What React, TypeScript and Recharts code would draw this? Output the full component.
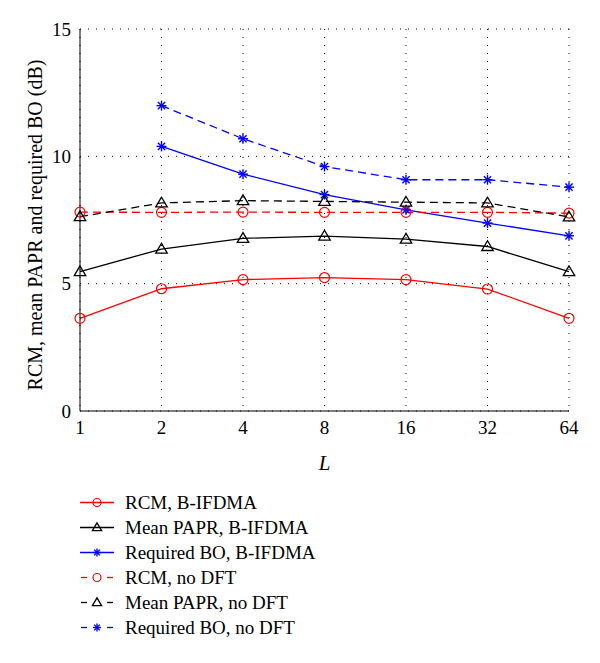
import { LineChart, Line, XAxis, YAxis, CartesianGrid } from "recharts";

const L = ["1", "2", "4", "8", "16", "32", "64"];
const rcmB = [3.64, 4.8, 5.16, 5.24, 5.16, 4.79, 3.64];
const paprB = [5.47, 6.36, 6.78, 6.87, 6.75, 6.46, 5.47];
const boB = [null, 10.39, 9.3, 8.5, 7.9, 7.38, 6.88];
const rcmN = [7.81, 7.8, 7.81, 7.8, 7.8, 7.8, 7.77];
const paprN = [7.63, 8.17, 8.26, 8.23, 8.2, 8.17, 7.62];
const boN = [null, 11.99, 10.69, 9.6, 9.08, 9.08, 8.79];
const yTicks = [0, 5, 10, 15];

const RED = "#ff0000";
const BLUE = "#0000ff";
const BLACK = "#000000";
const FONT = '"Liberation Serif", "Times New Roman", Times, serif';

type Marker = "circle" | "triangle" | "star";

const series: { key: string; name: string; values: (number | null)[]; color: string; dashed: boolean; marker: Marker }[] = [
  { key: "rcmB", name: "RCM, B-IFDMA", values: rcmB, color: RED, dashed: false, marker: "circle" },
  { key: "paprB", name: "Mean PAPR, B-IFDMA", values: paprB, color: BLACK, dashed: false, marker: "triangle" },
  { key: "boB", name: "Required BO, B-IFDMA", values: boB, color: BLUE, dashed: false, marker: "star" },
  { key: "rcmN", name: "RCM, no DFT", values: rcmN, color: RED, dashed: true, marker: "circle" },
  { key: "paprN", name: "Mean PAPR, no DFT", values: paprN, color: BLACK, dashed: true, marker: "triangle" },
  { key: "boN", name: "Required BO, no DFT", values: boN, color: BLUE, dashed: true, marker: "star" },
];

const data = L.map((l, i) => {
  const row: Record<string, string | number | null> = { L: l };
  series.forEach((s) => (row[s.key] = s.values[i]));
  return row;
});

function MarkerShape({ type, cx, cy, color, r }: { type: Marker; cx: number; cy: number; color: string; r: number }) {
  if (type === "circle") {
    return <circle cx={cx} cy={cy} r={r} fill="none" stroke={color} strokeWidth={1.2} />;
  }
  if (type === "triangle") {
    const h = r * 1.15;
    return (
      <polygon
        points={`${cx},${cy - h} ${cx - h},${cy + h * 0.7} ${cx + h},${cy + h * 0.7}`}
        fill="none"
        stroke={color}
        strokeWidth={1.3}
      />
    );
  }
  const d = r * 0.72;
  return (
    <g stroke={color} strokeWidth={1.4}>
      <line x1={cx - r} y1={cy} x2={cx + r} y2={cy} />
      <line x1={cx} y1={cy - r} x2={cx} y2={cy + r} />
      <line x1={cx - d} y1={cy - d} x2={cx + d} y2={cy + d} />
      <line x1={cx - d} y1={cy + d} x2={cx + d} y2={cy - d} />
    </g>
  );
}

function makeDot(type: Marker, color: string) {
  return (props: any) => {
    const { cx, cy, value, index } = props;
    if (value == null || cy == null || isNaN(cy)) return <g key={index} />;
    return (
      <g key={index}>
        <MarkerShape type={type} cx={cx} cy={cy} color={color} r={5} />
      </g>
    );
  };
}

const YLabel = (props: any) => {
  const { viewBox } = props;
  const cy = 225;
  const x = viewBox.x - 5;
  return (
    <text
      x={x}
      y={cy}
      transform={`rotate(-90 ${x} ${cy})`}
      textAnchor="middle"
      dominantBaseline="central"
      style={{ fontFamily: FONT }}
      fontSize={20}
      fill={BLACK}
    >
      RCM, mean PAPR and required BO (dB)
    </text>
  );
};

const XLabel = (props: any) => {
  const { viewBox } = props;
  return (
    <text
      x={viewBox.x + viewBox.width / 2}
      y={viewBox.y + 59}
      textAnchor="middle"
      style={{ fontFamily: FONT, fontStyle: "italic" }}
      fontSize={21}
      fill={BLACK}
    >
      L
    </text>
  );
};

const tickStyle = { fill: BLACK, fontSize: 19, style: { fontFamily: FONT } };

export default function App() {
  return (
    <div style={{ position: "absolute", left: 0, top: 0, width: 600, height: 663, background: "#fff", fontFamily: FONT }}>
      <LineChart width={600} height={480} data={data} margin={{ top: 29, right: 31, left: 40, bottom: 9 }} style={{ fontFamily: FONT }}>
        <CartesianGrid stroke={BLACK} strokeDasharray="1 7" strokeWidth={1} />
        <XAxis
          dataKey="L"
          type="category"
          height={60}
          stroke={BLACK}
          tickLine={false}
          tickSize={6}
          tickMargin={4}
          tick={tickStyle}
          label={<XLabel />}
        />
        <XAxis xAxisId="top" dataKey="L" orientation="top" height={0} stroke={BLACK} tick={false} tickLine={false} />
        <YAxis
          domain={[0, 15]}
          ticks={yTicks}
          width={40}
          stroke={BLACK}
          tickLine={false}
          tickSize={6}
          tickMargin={3}
          tick={tickStyle}
          label={<YLabel />}
        />
        <YAxis yAxisId="right" orientation="right" domain={[0, 15]} width={0} stroke={BLACK} tick={false} tickLine={false} />
        {series.map((s) => (
          <Line
            key={s.key}
            dataKey={s.key}
            name={s.name}
            type="linear"
            stroke={s.color}
            strokeWidth={1.3}
            strokeDasharray={s.dashed ? "8 5" : undefined}
            dot={makeDot(s.marker, s.color)}
            activeDot={false}
            connectNulls={false}
            isAnimationActive={false}
          />
        ))}
      </LineChart>
      <div style={{ position: "absolute", left: 80, top: 490, fontSize: 19, color: BLACK }}>
        {series.map((s) => (
          <div key={s.key} style={{ display: "flex", alignItems: "center", height: 25 }}>
            <svg width={34} height={25} style={{ flex: "none" }}>
              {s.dashed ? (
                <g stroke={s.color} strokeWidth={1.3}>
                  <line x1={1} y1={12.5} x2={7} y2={12.5} />
                  <line x1={27} y1={12.5} x2={33} y2={12.5} />
                </g>
              ) : (
                <line x1={0} y1={12.5} x2={34} y2={12.5} stroke={s.color} strokeWidth={1.3} />
              )}
              <MarkerShape type={s.marker} cx={17} cy={12.5} color={s.color} r={4} />
            </svg>
            <span style={{ marginLeft: 11, lineHeight: "25px", whiteSpace: "nowrap" }}>{s.name}</span>
          </div>
        ))}
      </div>
    </div>
  );
}
